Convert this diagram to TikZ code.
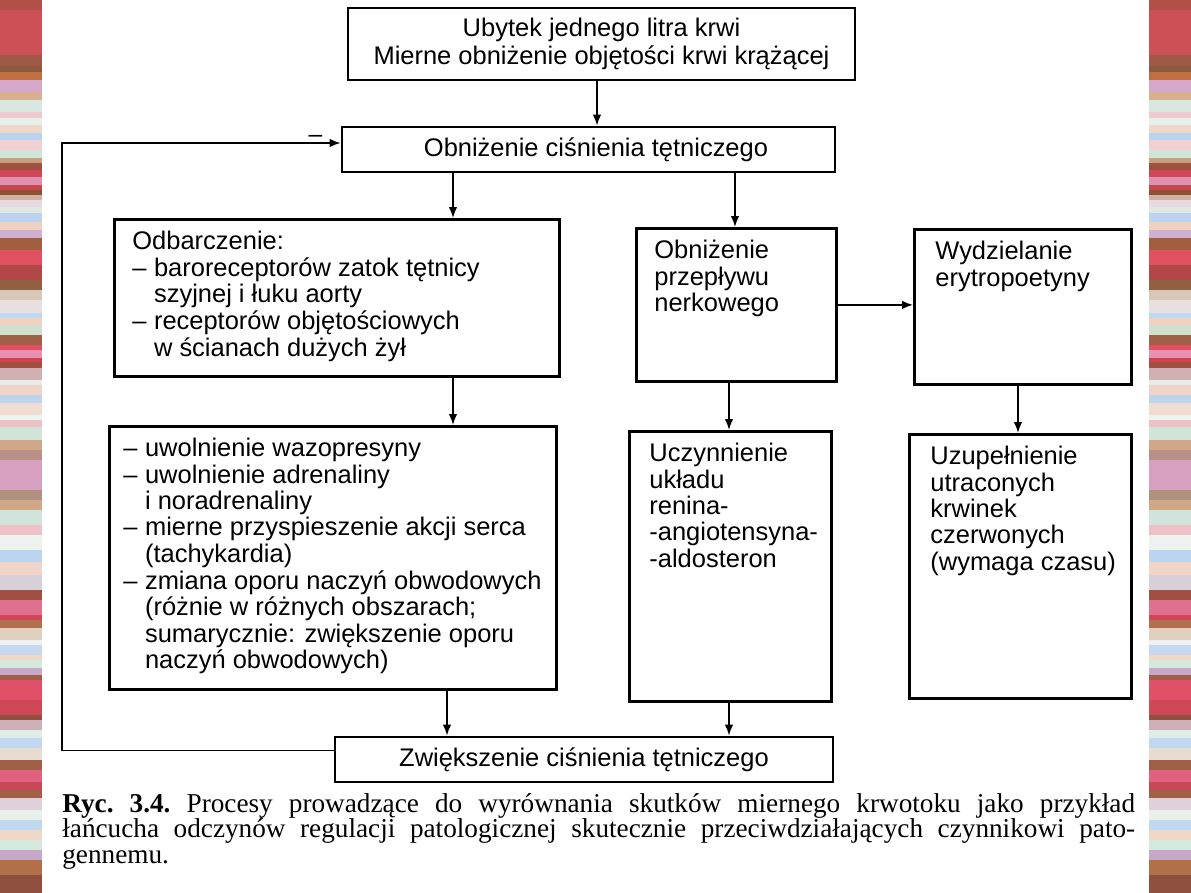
\documentclass[tikz,border=0pt]{standalone}
\usepackage{fontspec}
\setmainfont{Liberation Sans}
\newfontfamily\capfont{Liberation Serif}
\usetikzlibrary{arrows,arrows.meta,positioning,calc}

\newcommand{\boxtext}[3]{\parbox[c][#2][t]{#1}{\begin{tabular}[t]{@{}l@{}}#3\end{tabular}}}
\newcommand{\itm}{\makebox[0.85em][l]{–}}
\newcommand{\cnt}{\hspace*{0.85em}}

\begin{document}
\begin{tikzpicture}[x=0.02cm, y=-0.02cm,
    box/.style={rectangle, draw, line width=1.6pt, inner xsep=0.36cm, inner ysep=0.24cm, anchor=north west, font=\fontsize{14.5}{15}\selectfont},
    cbox/.style={rectangle, draw, line width=1.6pt, align=center, font=\fontsize{14.5}{16}\selectfont},
    arrow/.style={-{Latex[length=2.2mm,width=1.7mm]}, line width=0.9pt}
]
    \useasboundingbox (0,0) rectangle (1191,893);
    \fill[white] (0,0) rectangle (1191,893);

    % Side stripes
    \foreach \ya/\yb/\col in {0/10/B05048, 10/55/CC5055, 55/66/A05848, 66/72/8B5A40, 72/80/C07040, 80/92/D4A8C8,
        92/100/D8B090, 100/112/D8E8E0, 112/118/F0C8D0, 118/125/E8F0EC, 125/133/F0D8C8, 133/140/B8D4F0,
        140/150/F0D0D0, 150/158/D0E4D8, 158/163/C8A080, 163/170/A05040, 170/177/D04858, 177/185/E090B0,
        185/190/C84850, 190/195/905038, 195/200/D0B0A0, 200/207/E8D8E0, 207/213/E0E8E4, 213/222/BCD4F0,
        222/230/F0D0C0, 230/238/D0B0D0, 238/250/A06040, 250/265/E05060, 265/280/B04848, 280/290/906040,
        290/300/D8C8B8, 300/313/E8E0E0, 313/318/C0D8F0, 318/325/F0D0C0, 325/335/D0E0D0, 335/345/A06048,
        345/350/E05060, 350/358/E890B0, 358/362/D04050, 362/368/A05040, 368/380/D0B0B0, 380/385/E8ECE8,
        385/395/F0D4C8, 395/403/BCD4F0, 403/415/F0DCD0, 415/420/ECF4F0, 420/427/F0C0C8, 427/440/D0E4D8,
        440/450/D0A888, 450/460/B89088, 460/490/D8A0C0, 490/500/B09080, 500/510/D0A888, 510/525/D0E4DC,
        525/535/F0C0C8, 535/550/EEF2EE, 550/562/BCD4F0, 562/575/F0D4C8, 575/590/D8D0D8, 590/600/A05040,
        600/615/E07090, 615/620/D04858, 620/628/B07050, 628/640/E0D0C0, 640/645/F0F0F0, 645/655/C4D8F0,
        655/660/F0D8C8, 660/668/D4E8DC, 668/675/C8A8C8, 675/680/A06048, 680/700/E05068, 700/715/D04858,
        715/720/905040, 720/730/D0B0B8, 730/738/E0ECE8, 738/748/C0D8F0, 748/760/E8DCD0, 760/770/A06048,
        770/782/E06080, 782/790/C84858, 790/798/A06048, 798/810/E0D0DC, 810/820/E8F0EC, 820/830/C0D8F0,
        830/840/F0D8C8, 840/850/D4E8DC, 850/860/C8A8C8, 860/875/B07048, 875/893/905040}
    {
        \definecolor{band}{HTML}{\col}
        \fill[band] (0,\ya) rectangle (42,\yb+0.6);
        \fill[band] (1149,\ya) rectangle (1191,\yb+0.6);
    }

    % Top row
    \node[cbox, minimum width=10.14cm, minimum height=1.44cm] (ubytek) at (601.5,44)
        {Ubytek jednego litra krwi\\Mierne obniżenie objętości krwi krążącej};
    \node[cbox, minimum width=9.86cm, minimum height=0.9cm] (obniz) at (588.5,149.5)
        {\hspace*{0.3cm}Obniżenie ciśnienia tętniczego};

    % Left column
    \node[box] (odbar) at (113,218) {\boxtext{8.18cm}{2.66cm}{Odbarczenie:\\
        \itm baroreceptorów zatok tętnicy\\
        \cnt szyjnej i łuku aorty\\
        \itm receptorów objętościowych\\
        \cnt w ścianach dużych żył}};
    \node[box, inner xsep=0.28cm] (uwoln) at (108,425) {\boxtext{8.38cm}{4.78cm}{\itm uwolnienie wazopresyny\\
        \itm uwolnienie adrenaliny\\
        \cnt i noradrenaliny\\
        \itm mierne przyspieszenie akcji serca\\
        \cnt (tachykardia)\\
        \itm zmiana oporu naczyń obwodowych\\
        \cnt (różnie w różnych obszarach;\\
        \cnt sumarycznie: zwiększenie oporu\\
        \cnt naczyń obwodowych)}};

    % Middle column
    \node[box] (przep) at (635,227) {\boxtext{3.28cm}{2.58cm}{Obniżenie\\przepływu\\nerkowego}};
    \node[box, inner xsep=0.4cm] (uczyn) at (628,430)
        {\boxtext{3.24cm}{4.92cm}{Uczynnienie\\układu\\renina-\\-angiotensyna-\\-aldosteron}};

    % Right column
    \node[box, inner xsep=0.42cm] (wydz) at (913,228) {\boxtext{3.5cm}{2.62cm}{Wydzielanie\\erytropoetyny}};
    \node[box, inner xsep=0.42cm] (uzup) at (908,433)
        {\boxtext{3.6cm}{4.8cm}{Uzupełnienie\\utraconych\\krwinek\\czerwonych\\(wymaga czasu)}};

    % Bottom
    \node[cbox, minimum width=9.96cm, minimum height=0.9cm] (zwiek) at (584,759.5)
        {Zwiększenie ciśnienia tętniczego};

    % Arrows
    \coordinate (xm) at (597,0);
    \coordinate (xa) at (453,0);
    \coordinate (xb) at (729,0);
    \coordinate (xc) at (1018,0);
    \coordinate (fbx) at (62,0);
    \draw[arrow] (ubytek.south -| xm) -- (obniz.north -| xm);
    \draw[arrow] (obniz.south -| xa) -- (odbar.north -| xa);
    \draw[arrow] (odbar.south -| xa) -- (uwoln.north -| xa);
    \draw[arrow] ([xshift=-0.12cm]uwoln.south -| xa) -- ([xshift=-0.12cm]zwiek.north -| xa);
    \draw[arrow] ([xshift=0.12cm]obniz.south -| xb) -- ([xshift=0.12cm]przep.north -| xb);
    \draw[arrow] (przep.south -| xb) -- (uczyn.north -| xb);
    \draw[arrow] (uczyn.south -| xb) -- (zwiek.north -| xb);
    \draw[arrow] (przep.east) -- (przep.east -| wydz.west);
    \draw[arrow] (wydz.south -| xc) -- (uzup.north -| xc);

    % Feedback loop
    \draw[arrow] ([yshift=0.18cm]zwiek.west) -- ([yshift=0.18cm]zwiek.west -| fbx)
        -- ([yshift=0.13cm]obniz.west -| fbx)
        -- node[pos=0.91, above=-3.5pt, font=\fontsize{14}{15}\selectfont] (minus) {–} ([yshift=0.13cm]obniz.west);

    % Caption
    \node[anchor=north west, inner sep=0pt, text width=21.46cm, align=justify,
          font=\capfont\frenchspacing\fontsize{15.5}{14.6}\selectfont] (caption) at (62,793)
        {\textbf{Ryc. 3.4.} Procesy prowadzące do wyrównania skutków miernego krwotoku jako przykład\linebreak
         łańcucha odczynów regulacji patologicznej skutecznie przeciwdziałających czynnikowi pato-\linebreak
         gennemu.};
\end{tikzpicture}
\end{document}
